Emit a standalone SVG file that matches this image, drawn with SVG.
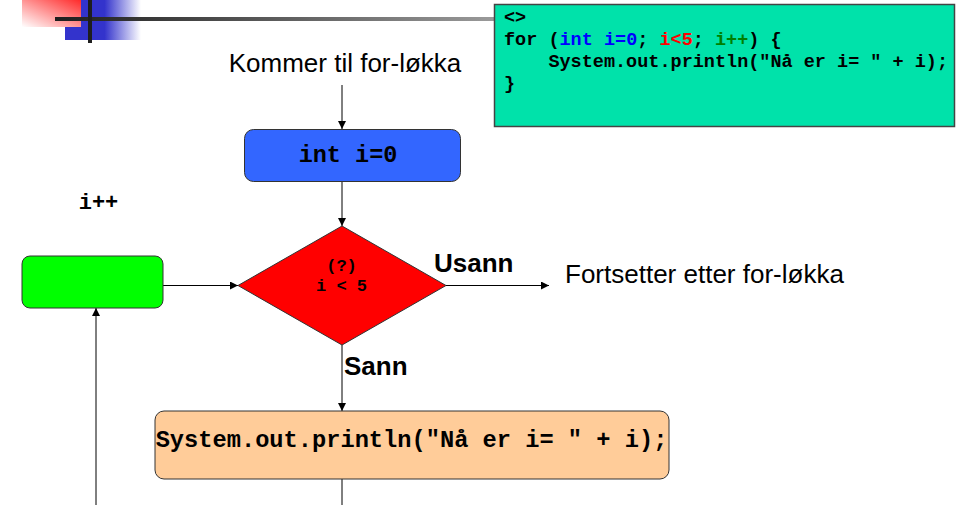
<svg xmlns="http://www.w3.org/2000/svg" width="964" height="505" viewBox="0 0 964 505">
<defs>
  <linearGradient id="gRed" x1="1" y1="0" x2="0" y2="1">
    <stop offset="0" stop-color="#ff2a2a"/>
    <stop offset="1" stop-color="#ffffff"/>
  </linearGradient>
  <linearGradient id="gBlue" x1="0" y1="0" x2="1" y2="0">
    <stop offset="0" stop-color="#3333cc"/>
    <stop offset="0.52" stop-color="#3333cc"/>
    <stop offset="1" stop-color="#ffffff"/>
  </linearGradient>
  <linearGradient id="gLine" x1="0" y1="0" x2="1" y2="0">
    <stop offset="0" stop-color="#1e1e1e"/>
    <stop offset="1" stop-color="#9a9a9a"/>
  </linearGradient>
  <marker id="arr" viewBox="0 0 10 10" refX="10" refY="5" markerWidth="8" markerHeight="8" markerUnits="userSpaceOnUse" orient="auto">
    <path d="M0,0 L10,5 L0,10 z" fill="#000"/>
  </marker>
  <style>
    .node { stroke: #333; stroke-width: 1; }
    .mono { font-family: "Liberation Mono", "Courier New", monospace; font-weight: bold; fill: #000; }
    .sans { font-family: "Liberation Sans", Arial, sans-serif; fill: #000; }
    .conn { stroke: #000; stroke-width: 1; fill: none; }
  </style>
</defs>

<g id="header">
  <rect x="65" y="0" width="76" height="40" fill="url(#gBlue)"/>
  <rect x="22" y="0" width="59" height="27" fill="url(#gRed)"/>
  <rect x="55" y="17" width="440" height="4" fill="url(#gLine)"/>
  <rect x="88" y="0" width="4" height="43" fill="#1e1e1e"/>
</g>

<g id="code">
  <rect x="494.5" y="4.5" width="460" height="122" fill="#00e2aa" stroke="#444" stroke-width="1.5"/>
  <text class="mono" font-size="18.5" x="504" y="23">&lt;&gt;</text>
  <text class="mono" font-size="18.5" x="504" y="45" xml:space="preserve">for (<tspan fill="#0000ff">int i=0</tspan>; <tspan fill="#ff0000">i&lt;5</tspan>; <tspan fill="#008000">i++</tspan>) {</text>
  <text class="mono" font-size="18.5" x="504" y="67" xml:space="preserve">    System.out.println("Nå er i= " + i);</text>
  <text class="mono" font-size="18.5" x="504" y="89">}</text>
</g>

<g id="connectors">
  <line class="conn" x1="342" y1="85" x2="342" y2="129" marker-end="url(#arr)"/>
  <line class="conn" x1="342" y1="182" x2="342" y2="226" marker-end="url(#arr)"/>
  <line class="conn" x1="446" y1="285.5" x2="549" y2="285.5" marker-end="url(#arr)"/>
  <line class="conn" x1="342" y1="345" x2="342" y2="411" marker-end="url(#arr)"/>
  <line class="conn" x1="342" y1="479" x2="342" y2="505"/>
  <line class="conn" x1="96" y1="505" x2="96" y2="308" marker-end="url(#arr)"/>
  <line class="conn" x1="163" y1="285.5" x2="238" y2="285.5" marker-end="url(#arr)"/>
</g>

<g id="start-label">
  <text class="sans" font-size="26" x="345" y="72" text-anchor="middle">Kommer til for-løkka</text>
</g>

<g id="init">
  <rect class="node" x="244.5" y="129.5" width="216" height="52" rx="9" fill="#3366ff"/>
  <text class="mono" font-size="23.5" x="348" y="162" text-anchor="middle">int i=0</text>
</g>

<g id="incr-label">
  <text class="mono" font-size="22" x="98.5" y="209" text-anchor="middle">i++</text>
</g>

<g id="incr">
  <rect class="node" x="22" y="256" width="141" height="52" rx="8" fill="#00ff00"/>
</g>

<g id="cond">
  <polygon class="node" points="342,226 446,285.5 342,345 238,285.5" fill="#ff0000"/>
  <text class="mono" font-size="17" x="341.5" y="271" text-anchor="middle">(?)</text>
  <text class="mono" font-size="17" x="341.5" y="291" text-anchor="middle">i &lt; 5</text>
</g>

<g id="labels">
  <text class="sans" font-size="26" font-weight="bold" x="434" y="272">Usann</text>
  <text class="sans" font-size="26" font-weight="bold" x="344" y="375">Sann</text>
</g>

<g id="end-label">
  <text class="sans" font-size="26" x="565" y="283">Fortsetter etter for-løkka</text>
</g>

<g id="body">
  <rect class="node" x="155" y="411" width="514" height="68" rx="9" fill="#ffcc99"/>
  <text class="mono" font-size="23.7" x="411.5" y="447" text-anchor="middle">System.out.println("Nå er i= " + i);</text>
</g>
</svg>
